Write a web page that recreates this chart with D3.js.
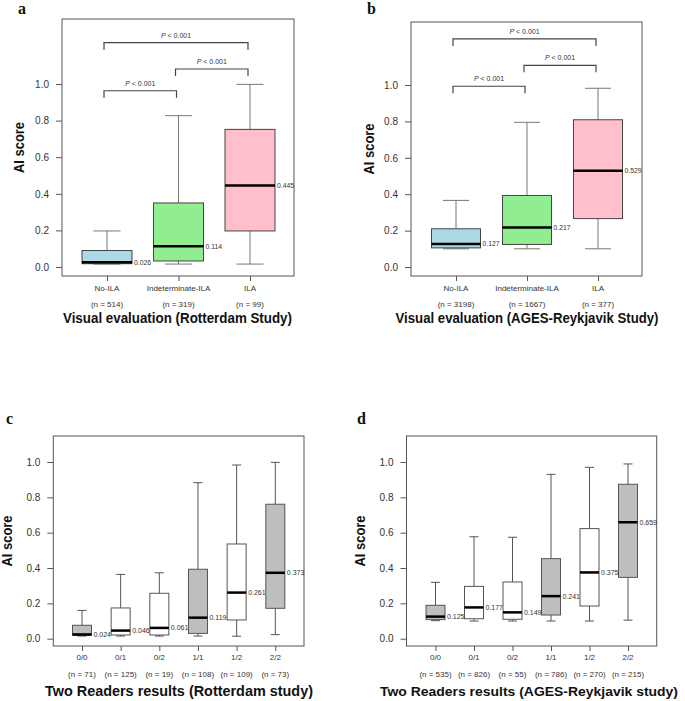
<!DOCTYPE html>
<html><head><meta charset="utf-8">
<script src="https://cdn.jsdelivr.net/npm/d3@7"></script>
<style>body{margin:0;background:#fff}svg{display:block}</style>
</head><body>
<svg id="c" width="685" height="701"></svg>
<script>
// ---- data ----
const yTicks = [0, 0.2, 0.4, 0.6, 0.8, 1.0];

const catsA = ["No-ILA", "Indeterminate-ILA", "ILA"];
const nA = ["(n = 514)", "(n = 319)", "(n = 99)"];
const minA = [0.016, 0.016, 0.016];
const q1A  = [0.018, 0.033, 0.197];
const medA = [0.026, 0.114, 0.445];
const q3A  = [0.090, 0.350, 0.752];
const maxA = [0.197, 0.827, 0.998];
const medLabA = ["0.026", "0.114", "0.445"];
const brkA = [[0, 2, 1.226], [1, 2, 1.082], [0, 1, 0.963]];

const catsB = ["No-ILA", "Indeterminate-ILA", "ILA"];
const nB = ["(n = 3198)", "(n = 1667)", "(n = 377)"];
const minB = [0.100, 0.100, 0.100];
const q1B  = [0.105, 0.124, 0.266];
const medB = [0.127, 0.217, 0.529];
const q3B  = [0.210, 0.393, 0.809];
const maxB = [0.366, 0.795, 0.982];
const medLabB = ["0.127", "0.217", "0.529"];
const brkB = [[0, 2, 1.253], [1, 2, 1.108], [0, 1, 0.993]];

const catsC = ["0/0", "0/1", "0/2", "1/1", "1/2", "2/2"];
const nC = ["(n = 71)", "(n = 125)", "(n = 19)", "(n = 108)", "(n = 109)", "(n = 73)"];
const minC = [0.015, 0.015, 0.015, 0.015, 0.014, 0.023];
const q1C  = [0.019, 0.021, 0.021, 0.030, 0.106, 0.172];
const medC = [0.024, 0.046, 0.061, 0.119, 0.261, 0.373];
const q3C  = [0.076, 0.174, 0.257, 0.393, 0.536, 0.761];
const maxC = [0.160, 0.364, 0.373, 0.883, 0.983, 0.998];
const medLabC = ["0.024", "0.046", "0.061", "0.119", "0.261", "0.373"];

const catsD = ["0/0", "0/1", "0/2", "1/1", "1/2", "2/2"];
const nD = ["(n = 535)", "(n = 826)", "(n = 55)", "(n = 786)", "(n = 270)", "(n = 215)"];
const minD = [0.102, 0.100, 0.100, 0.100, 0.100, 0.105];
const q1D  = [0.108, 0.113, 0.110, 0.134, 0.185, 0.347];
const medD = [0.125, 0.177, 0.149, 0.241, 0.375, 0.659];
const q3D  = [0.189, 0.296, 0.321, 0.453, 0.623, 0.874];
const maxD = [0.319, 0.577, 0.574, 0.930, 0.970, 0.989];
const medLabD = ["0.125", "0.177", "0.149", "0.241", "0.375", "0.659"];

const fillsABC = ["#add8e6", "#90ee90", "#ffc0cb"];
const fillsReaders = ["#bebebe", "#ffffff", "#ffffff", "#bebebe", "#ffffff", "#bebebe"];

const pLabel = "< 0.001";
const yTitle = "AI score";

// ---- drawing ----
const svg = d3.select("#c");
const SANS = "'Liberation Sans', Arial, sans-serif";
const SERIF = "'Liberation Serif', 'Times New Roman', serif";

function panel(cfg) {
  const g = svg.append("g");
  const x = d3.scalePoint().domain(cfg.cats).range([cfg.xFirst, cfg.xLast]);
  const y = d3.scaleLinear().domain([0, 1]).range([cfg.y0, cfg.y1]);

  g.append("rect").attr("x", cfg.x0).attr("y", cfg.top)
    .attr("width", cfg.x1 - cfg.x0).attr("height", cfg.bottom - cfg.top)
    .attr("fill", "none").attr("stroke", "#555").attr("stroke-width", 1);

  const ya = g.append("g").attr("transform", `translate(${cfg.x0},0)`)
    .call(d3.axisLeft(y).tickValues(yTicks).tickFormat(d3.format(".1f")).tickSize(6).tickPadding(7));
  ya.select(".domain").remove();
  ya.selectAll(".tick line").attr("stroke", "#555");
  ya.selectAll(".tick text").attr("fill", "#333").style("font-family", SANS).style("font-size", "10px");

  const xa = g.append("g").attr("transform", `translate(0,${cfg.bottom})`)
    .call(d3.axisBottom(x).tickSize(5).tickFormat(""));
  xa.select(".domain").remove();
  xa.selectAll(".tick line").attr("stroke", "#555");

  cfg.cats.forEach((c, i) => {
    g.append("text").attr("x", x(c)).attr("y", cfg.catY).attr("text-anchor", "middle")
      .style("font-family", SANS).style("font-size", "8px").attr("fill", "#333").text(c);
    g.append("text").attr("x", x(c)).attr("y", cfg.nY).attr("text-anchor", "middle")
      .style("font-family", SANS).style("font-size", "8px").attr("fill", "#333").text(cfg.n[i]);
  });

  const bw = cfg.boxW, cw = cfg.capW;
  cfg.cats.forEach((c, i) => {
    const cx = x(c);
    const wc = cfg.whiskCol;
    g.append("line").attr("x1", cx).attr("x2", cx).attr("y1", y(cfg.q3[i])).attr("y2", y(cfg.max[i]))
      .attr("stroke", wc).attr("stroke-width", 1);
    g.append("line").attr("x1", cx).attr("x2", cx).attr("y1", y(cfg.q1[i])).attr("y2", y(cfg.min[i]))
      .attr("stroke", wc).attr("stroke-width", 1);
    g.append("line").attr("x1", cx - cw / 2).attr("x2", cx + cw / 2).attr("y1", y(cfg.max[i])).attr("y2", y(cfg.max[i]))
      .attr("stroke", wc).attr("stroke-width", 1);
    g.append("line").attr("x1", cx - cw / 2).attr("x2", cx + cw / 2).attr("y1", y(cfg.min[i])).attr("y2", y(cfg.min[i]))
      .attr("stroke", wc).attr("stroke-width", 1);
    g.append("rect").attr("x", cx - bw / 2).attr("y", y(cfg.q3[i]))
      .attr("width", bw).attr("height", y(cfg.q1[i]) - y(cfg.q3[i]))
      .attr("fill", cfg.fills[i]).attr("stroke", cfg.boxCol).attr("stroke-width", 1);
    g.append("line").attr("x1", cx - bw / 2).attr("x2", cx + bw / 2).attr("y1", y(cfg.med[i])).attr("y2", y(cfg.med[i]))
      .attr("stroke", "#000").attr("stroke-width", 2.5);
    g.append("text").attr("x", cx + bw / 2 + 2).attr("y", y(cfg.med[i]) + 2.5)
      .style("font-family", SANS).style("font-size", cfg.medFont + "px").attr("fill", "#333").text(cfg.medLab[i]);
  });

  (cfg.brk || []).forEach(b => {
    const xa1 = x(cfg.cats[b[0]]) - 3, xa2 = x(cfg.cats[b[1]]) - 2, yy = y(b[2]);
    g.append("path").attr("d", `M${xa1},${yy + 7}V${yy}H${xa2}V${yy + 7}`)
      .attr("fill", "none").attr("stroke", "#444").attr("stroke-width", 1.2);
    const t = g.append("text").attr("x", (xa1 + xa2) / 2).attr("y", yy - 5).attr("text-anchor", "middle")
      .style("font-family", SANS).style("font-size", "7px").attr("fill", "#333");
    t.append("tspan").style("font-style", "italic").text("P");
    t.append("tspan").text(" " + pLabel);
  });

  g.append("text").attr("x", cfg.titleX).attr("y", cfg.titleY).attr("text-anchor", "middle")
    .attr("textLength", cfg.titleW).attr("lengthAdjust", "spacingAndGlyphs")
    .style("font-family", SANS).style("font-size", cfg.titleFont + "px").style("font-weight", "bold")
    .attr("fill", "#111").text(cfg.title);

  const ym = (cfg.top + cfg.bottom) / 2;
  g.append("text").attr("transform", `translate(${cfg.ylabX},${ym}) rotate(-90)`).attr("text-anchor", "middle")
    .attr("textLength", 51).attr("lengthAdjust", "spacingAndGlyphs")
    .style("font-family", SANS).style("font-size", "14px").style("font-weight", "bold")
    .attr("fill", "#111").text(yTitle);

  g.append("text").attr("x", cfg.letX).attr("y", cfg.letY)
    .style("font-family", SERIF).style("font-size", "16px").style("font-weight", "bold")
    .attr("fill", "#111").text(cfg.letter);
}

panel({
  cats: catsA, n: nA, min: minA, q1: q1A, med: medA, q3: q3A, max: maxA, medLab: medLabA, brk: brkA,
  fills: fillsABC, boxCol: "#444", whiskCol: "#777", medFont: 6.8,
  x0: 62, x1: 294, top: 19, bottom: 276, y0: 267, y1: 84, xFirst: 107, xLast: 250, boxW: 50, capW: 27,
  catY: 291, nY: 307, title: "Visual evaluation (Rotterdam Study)", titleX: 177.5, titleY: 323, titleW: 229, titleFont: 14,
  ylabX: 23.5, letter: "a", letX: 18, letY: 14
});
panel({
  cats: catsB, n: nB, min: minB, q1: q1B, med: medB, q3: q3B, max: maxB, medLab: medLabB, brk: brkB,
  fills: fillsABC, boxCol: "#444", whiskCol: "#777", medFont: 6.8,
  x0: 411, x1: 642, top: 22, bottom: 276, y0: 267, y1: 85, xFirst: 456, xLast: 598, boxW: 49, capW: 26,
  catY: 291, nY: 307, title: "Visual evaluation (AGES-Reykjavik Study)", titleX: 527, titleY: 323, titleW: 263, titleFont: 14,
  ylabX: 373.5, letter: "b", letX: 367, letY: 14
});
panel({
  cats: catsC, n: nC, min: minC, q1: q1C, med: medC, q3: q3C, max: maxC, medLab: medLabC,
  fills: fillsReaders, boxCol: "#555", whiskCol: "#555", medFont: 7,
  x0: 53.3, x1: 304, top: 436, bottom: 646, y0: 638.7, y1: 462, xFirst: 82, xLast: 275.3, boxW: 19, capW: 9,
  catY: 660, nY: 677, title: "Two Readers results (Rotterdam study)", titleX: 179, titleY: 696, titleW: 268, titleFont: 15,
  ylabX: 12, letter: "c", letX: 6, letY: 424
});
panel({
  cats: catsD, n: nD, min: minD, q1: q1D, med: medD, q3: q3D, max: maxD, medLab: medLabD,
  fills: fillsReaders, boxCol: "#555", whiskCol: "#555", medFont: 7,
  x0: 406.5, x1: 656.7, top: 436, bottom: 646, y0: 638.7, y1: 462, xFirst: 435.5, xLast: 628, boxW: 19, capW: 9,
  catY: 660, nY: 677, title: "Two Readers results (AGES-Reykjavik study)", titleX: 529, titleY: 696, titleW: 298, titleFont: 13.5,
  ylabX: 365, letter: "d", letX: 357, letY: 424
});
</script>
</body></html>
